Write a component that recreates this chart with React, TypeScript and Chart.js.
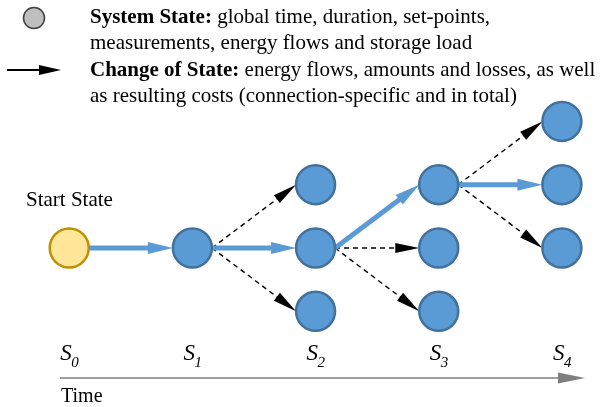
import React, { useEffect, useRef } from 'react';
import { Chart, registerables } from 'chart.js';

Chart.register(...registerables);

// Time steps (S0..S4) and the state tree
const stepSubscripts = ['0', '1', '2', '3', '4'];
const nodeStep = [0, 1, 2, 2, 2, 3, 3, 3, 4, 4, 4];
const nodeLevel = [0, 0, 1, 0, -1, 1, 0, -1, 2, 1, 0];
// chosen (optimal) path transitions
const pathFrom = [0, 1, 3, 5];
const pathTo = [1, 3, 5, 9];
// alternative transitions
const branchFrom = [1, 1, 3, 3, 5, 5];
const branchTo = [2, 4, 6, 7, 8, 10];

const legendBold = ['System State:', '', 'Change of State:', ''];
const legendText = [
  ' global time, duration, set-points,',
  'measurements, energy flows and storage load',
  ' energy flows, amounts and losses, as well',
  'as resulting costs (connection-specific and in total)',
];
const startLabel = 'Start State';
const timeLabel = 'Time';

const SERIF = '"Liberation Serif", "Times New Roman", serif';
const NODE_R = 19.5;

function arrow(
  ctx: CanvasRenderingContext2D,
  x1: number, y1: number, x2: number, y2: number,
  color: string, width: number, dash: number[], headLen: number, headHalf: number
) {
  const dx = x2 - x1, dy = y2 - y1;
  const len = Math.hypot(dx, dy);
  const ux = dx / len, uy = dy / len;
  const bx = x2 - ux * headLen, by = y2 - uy * headLen;
  ctx.save();
  ctx.strokeStyle = color;
  ctx.fillStyle = color;
  ctx.lineWidth = width;
  ctx.setLineDash(dash);
  ctx.beginPath();
  ctx.moveTo(x1, y1);
  ctx.lineTo(bx + ux * 2, by + uy * 2);
  ctx.stroke();
  ctx.setLineDash([]);
  ctx.beginPath();
  ctx.moveTo(x2, y2);
  ctx.lineTo(bx - uy * headHalf, by + ux * headHalf);
  ctx.lineTo(bx + uy * headHalf, by - ux * headHalf);
  ctx.closePath();
  ctx.fill();
  ctx.restore();
}

const diagramPlugin = {
  id: 'diagram',
  beforeDatasetsDraw(chart: any) {
    const ctx: CanvasRenderingContext2D = chart.ctx;
    const xs = chart.scales.x, ys = chart.scales.y;
    const px = (i: number) => xs.getPixelForValue(nodeStep[i]);
    const py = (i: number) => ys.getPixelForValue(nodeLevel[i]);

    // alternative transitions (dashed black)
    branchFrom.forEach((f, k) => {
      const t = branchTo[k];
      arrow(ctx, px(f) + NODE_R, py(f), px(t) - NODE_R, py(t), '#000000', 1.4, [5, 4], 24, 5);
    });
    // chosen path (thick blue)
    pathFrom.forEach((f, k) => {
      const t = pathTo[k];
      arrow(ctx, px(f) + NODE_R, py(f), px(t) - NODE_R, py(t), '#5B9BD5', 5, [], 25, 6);
    });

    // Step labels S_i
    ctx.save();
    ctx.fillStyle = '#000000';
    ctx.textBaseline = 'alphabetic';
    stepSubscripts.forEach((sub, s) => {
      const x = xs.getPixelForValue(s) - 9;
      ctx.font = `italic 23px ${SERIF}`;
      ctx.fillText('S', x, 360);
      const w = ctx.measureText('S').width;
      ctx.font = `italic 15px ${SERIF}`;
      ctx.fillText(sub, x + w - 0.5, 367);
    });
    ctx.restore();

    // Time axis
    arrow(ctx, 60, 378, 585, 378, '#7F7F7F', 1.5, [], 27, 5.5);
    ctx.save();
    ctx.fillStyle = '#000000';
    ctx.font = `20px ${SERIF}`;
    ctx.fillText(timeLabel, 61, 402);
    // Start state label
    ctx.font = `21px ${SERIF}`;
    ctx.fillText(startLabel, 26, 206);

    // Legend
    ctx.beginPath();
    ctx.arc(34, 18, 10.5, 0, Math.PI * 2);
    ctx.fillStyle = '#BFBFBF';
    ctx.fill();
    ctx.lineWidth = 1.5;
    ctx.strokeStyle = '#404040';
    ctx.stroke();
    ctx.restore();
    arrow(ctx, 7, 70, 61, 70, '#000000', 2, [], 22, 5);

    ctx.save();
    ctx.fillStyle = '#000000';
    const baselines = [23, 49, 76, 102];
    legendText.forEach((txt, i) => {
      let x = 90;
      if (legendBold[i]) {
        ctx.font = `bold 21px ${SERIF}`;
        ctx.fillText(legendBold[i], x, baselines[i]);
        x += ctx.measureText(legendBold[i]).width;
      }
      ctx.font = `21px ${SERIF}`;
      ctx.fillText(txt, x, baselines[i]);
    });
    ctx.restore();
  },
};

export default function App() {
  const ref = useRef<HTMLCanvasElement | null>(null);
  useEffect(() => {
    document.body.style.margin = '0';
    const canvas = ref.current;
    if (!canvas) return;
    const data = nodeStep.map((s, i) => ({ x: s, y: nodeLevel[i] }));
    const chart = new Chart(canvas, {
      type: 'scatter',
      data: {
        datasets: [
          {
            data,
            pointRadius: NODE_R,
            pointHoverRadius: NODE_R,
            pointBorderWidth: 2.5,
            pointBackgroundColor: data.map((_, i) => (i === 0 ? '#FFE699' : '#5B9BD5')),
            pointBorderColor: data.map((_, i) => (i === 0 ? '#BF9000' : '#41719C')),
            clip: false as any,
          },
        ],
      },
      options: {
        animation: false,
        responsive: false,
        events: [],
        layout: { padding: 0, autoPadding: false },
        plugins: { legend: { display: false }, tooltip: { enabled: false }, title: { display: false } },
        scales: {
          x: { type: 'linear', min: -0.562, max: 4.35, display: false },
          y: { type: 'linear', min: -2.512, max: 3.918, display: false },
        },
      },
      plugins: [diagramPlugin],
    });
    return () => chart.destroy();
  }, []);
  return (
    <div style={{ width: 605, height: 407, background: '#ffffff' }}>
      <canvas ref={ref} width={605} height={407} />
    </div>
  );
}
